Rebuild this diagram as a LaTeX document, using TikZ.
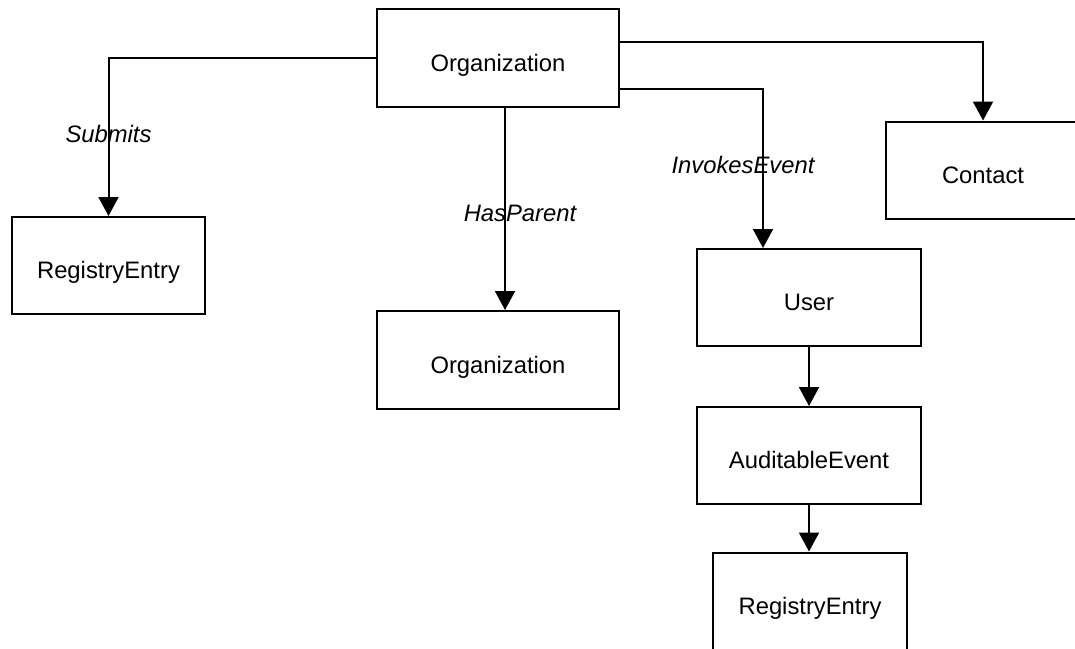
\documentclass[tikz,border=0pt]{standalone}
\usepackage{fontspec}
\setmainfont{Liberation Sans}
\usetikzlibrary{arrows.meta}
\begin{document}
\begin{tikzpicture}[x=0.5pt,y=-0.5pt,
        entity/.style = {draw, line width=1pt, inner sep=0pt, minimum height=48.5pt, text height=13.3pt, text depth=0pt, font=\fontsize{11.9}{14}\selectfont},
        rel/.style = {line width=1pt, -{Triangle[length=9.5pt,width=10pt]}},
        relname/.style = {font=\fontsize{11.9}{14}\selectfont\itshape}]
        \useasboundingbox (0,0) rectangle (1075,648);
        \clip (0,0) rectangle (1075,648);
        \node[entity, minimum width=121pt, minimum height=49pt] (orgtop) at (498,58) {Organization};
        \node[entity, minimum width=97pt] (contact) at (983,170) {Contact};
        \node[entity, minimum width=96.5pt] (regleft) at (108.5,265.5) {RegistryEntry};
        \node[entity, minimum width=121pt, minimum height=49pt] (orgmid) at (498,360) {Organization};
        \node[entity, minimum width=112pt] (user) at (809,297.5) {User};
        \node[entity, minimum width=112pt] (audit) at (809,455.5) {AuditableEvent};
        \node[entity, minimum width=97pt] (regbot) at (810,601) {RegistryEntry};
        \draw[style = rel] (orgtop.west) -| (regleft.north) node[relname, pos=0.74] (submits) {Submits};
        \draw[style = rel] ([xshift=3.5pt]orgtop.south) -- ([xshift=3.5pt]orgmid.north) node[relname, pos=0.52, xshift=7.5pt] (hasparent) {HasParent};
        \draw[style = rel] ([yshift=8pt]orgtop.east) -| (contact.north);
        \draw[style = rel] ([yshift=-15.5pt]orgtop.east) -| ([xshift=-23pt]user.north) node[relname, pos=0.74, xshift=-10pt] (invokes) {InvokesEvent};
        \draw[style = rel] (user.south) -- (audit.north);
        \draw[style = rel] (audit.south) -- (audit.south |- regbot.north);
    \end{tikzpicture}
\end{document}
